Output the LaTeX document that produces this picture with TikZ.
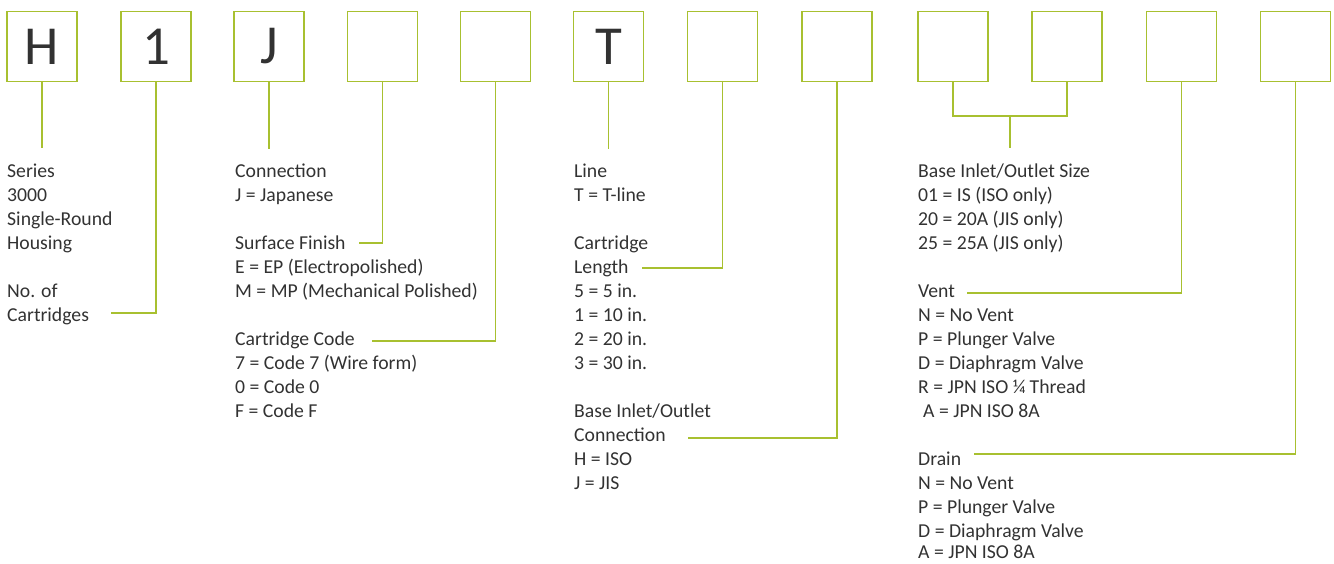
\documentclass[tikz,border=0pt]{standalone}
\usepackage{fontspec}
\setmainfont{Carlito}
\definecolor{lime}{RGB}{168,192,48}
\definecolor{txt}{RGB}{50,50,50}
\newcommand{\lblfont}{\fontsize{19.7}{24}\selectfont}
\newcommand{\bigfont}{\fontsize{55}{55}\selectfont}
\tikzset{
  box/.style={draw=lime, line width=1.3pt, minimum width=70pt, minimum height=70pt, inner sep=0pt, font=\bigfont, text=txt},
  lbl/.style={anchor=base west, inner sep=0pt, font=\lblfont, text=txt},
  conn/.style={draw=lime, line width=1.3pt}
}
\begin{document}
\begin{tikzpicture}[x=1pt,y=-1pt]
\useasboundingbox (0,0) rectangle (1334,563);
% boxes
\node[box] (b1) at (42,46.5) {H};
\node[box] (b2) at (156,46.5) {1};
\node[box] (b3) at (269,46.5) {J};
\node[box] (b4) at (382.5,46.5) {};
\node[box] (b5) at (495.5,46.5) {};
\node[box] (b6) at (608.5,46.5) {T};
\node[box] (b7) at (722.5,46.5) {};
\node[box] (b8) at (837,46.5) {};
\node[box] (b9) at (953,46.5) {};
\node[box] (b10) at (1067,46.5) {};
\node[box] (b11) at (1181.5,46.5) {};
\node[box] (b12) at (1295.5,46.5) {};
% column 1
\node[lbl] (series) at (7,177) {Series};
\node[lbl] (s2) at (7,201) {3000};
\node[lbl] (s3) at (7,225) {Single-Round};
\node[lbl] (s4) at (7,249) {Housing};
\node[lbl] (noof) at (7,297) {No. of};
\node[lbl] (cart) at (7,321) {Cartridges};
% column J
\node[lbl] (conn) at (235,177) {Connection};
\node[lbl] (c2) at (235,201) {J = Japanese};
\node[lbl] (surf) at (235,249) {Surface Finish};
\node[lbl] (f2) at (235,273) {E = EP (Electropolished)};
\node[lbl] (f3) at (235,297) {M = MP (Mechanical Polished)};
\node[lbl] (code) at (235,345) {Cartridge Code};
\node[lbl] (k2) at (235,369) {7 = Code 7 (Wire form)};
\node[lbl] (k3) at (235,393) {0 = Code 0};
\node[lbl] (k4) at (235,417) {F = Code F};
% column T
\node[lbl] (line) at (574,177) {Line};
\node[lbl] (l2) at (574,201) {T = T-line};
\node[lbl] (len1) at (574,249) {Cartridge};
\node[lbl] (len) at (574,273) {Length};
\node[lbl] (n1) at (574,297) {5 = 5 in.};
\node[lbl] (n2) at (574,321) {1 = 10 in.};
\node[lbl] (n3) at (574,345) {2 = 20 in.};
\node[lbl] (n4) at (574,369) {3 = 30 in.};
\node[lbl] (base1) at (574,417) {Base Inlet/Outlet};
\node[lbl] (base) at (574,441) {Connection};
\node[lbl] (h1) at (574,465) {H = ISO};
\node[lbl] (h2) at (574,489) {J = JIS};
% right column
\node[lbl] (size) at (918,177) {Base Inlet/Outlet Size};
\node[lbl] (z1) at (918,201) {01 = IS (ISO only)};
\node[lbl] (z2) at (918,225) {20 = 20A (JIS only)};
\node[lbl] (z3) at (918,249) {25 = 25A (JIS only)};
\node[lbl] (vent) at (918,297) {Vent};
\node[lbl] (v1) at (918,321) {N = No Vent};
\node[lbl] (v2) at (918,345) {P = Plunger Valve};
\node[lbl] (v3) at (918,369) {D = Diaphragm Valve};
\node[lbl] (v4) at (918,393) {R = JPN ISO ¼ Thread};
\node[lbl] (v5) at (923,417) {A = JPN ISO 8A};
\node[lbl] (drain) at (918,465) {Drain};
\node[lbl] (d1) at (918,489) {N = No Vent};
\node[lbl] (d2) at (918,513) {P = Plunger Valve};
\node[lbl] (d3) at (918,537) {D = Diaphragm Valve};
\node[lbl] (d4) at (918,558.5) {A = JPN ISO 8A};
% connector end points
\coordinate (e1) at (42,148);
\coordinate (e2) at (111,313);
\coordinate (e3) at (269,149);
\coordinate (e4) at (359,243);
\coordinate (e5) at (372,341);
\coordinate (e6) at (608.5,149);
\coordinate (e7) at (642,268);
\coordinate (e8) at (688,438);
\coordinate (jn) at (1010,116);
\coordinate (e9) at (1010,148);
\coordinate (e11) at (967,293);
\coordinate (e12) at (974,454);
% connectors
\draw[conn] (b1.south) -- (e1);
\draw[conn] (b2.south) |- (e2);
\draw[conn] (b3.south) -- (e3);
\draw[conn] (b4.south) |- (e4);
\draw[conn] (b5.south) |- (e5);
\draw[conn] (b6.south) -- (e6);
\draw[conn] (b7.south) |- (e7);
\draw[conn] (b8.south) |- (e8);
\draw[conn] (b9.south) |- (jn) -| (b10.south);
\draw[conn] (jn) -- (e9);
\draw[conn] (b11.south) |- (e11);
\draw[conn] (b12.south) |- (e12);
\end{tikzpicture}
\end{document}
